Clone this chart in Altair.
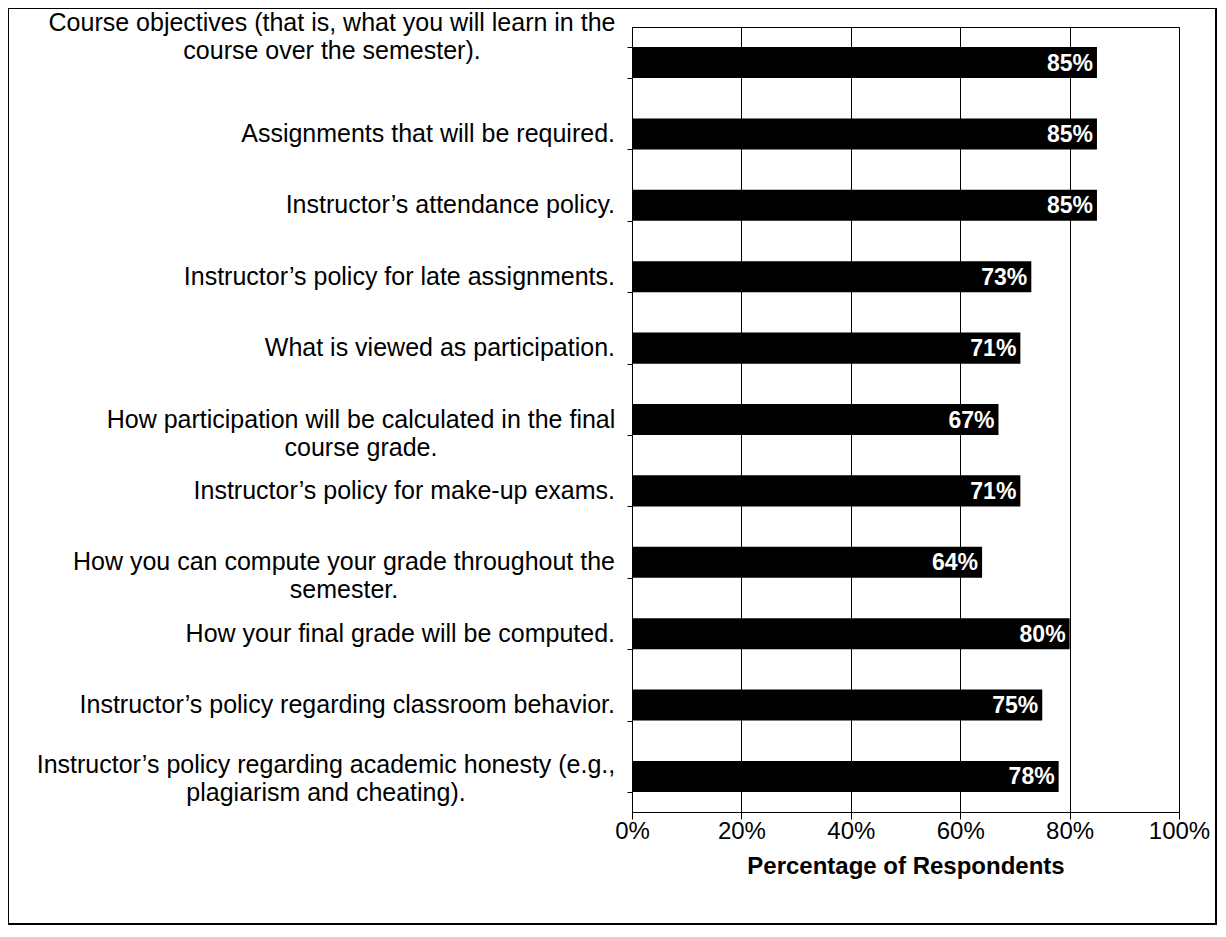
import altair as alt
import pandas as pd

categories = [
    "Course objectives (that is, what you will learn in the\ncourse over the semester).",
    "Assignments that will be required.",
    "Instructor’s attendance policy.",
    "Instructor’s policy for late assignments.",
    "What is viewed as participation.",
    "How participation will be calculated in the final\ncourse grade.",
    "Instructor’s policy for make-up exams.",
    "How you can compute your grade throughout the\nsemester.",
    "How your final grade will be computed.",
    "Instructor’s policy regarding classroom behavior.",
    "Instructor’s policy regarding academic honesty (e.g.,\nplagiarism and cheating).",
]
percent_values = [85, 85, 85, 73, 71, 67, 71, 64, 80, 75, 78]
x_ticks = [0, 0.2, 0.4, 0.6, 0.8, 1.0]

df = pd.DataFrame({
    "item": categories,
    "frac": [v / 100 for v in percent_values],
    "lbl": [f"{v}%" for v in percent_values],
})
FONT = "Liberation Sans"
LABEL_SIZE = 25

y_enc = alt.Y(
    "item:N",
    sort=None,
    scale=alt.Scale(paddingInner=0.565, paddingOuter=0.28),
    axis=alt.Axis(
        title=None,
        labels=False,
        tickBand="extent",
        tickSize=5,
        tickColor="black",
        domainColor="black",
        grid=False,
    ),
)

x_enc = alt.X(
    "frac:Q",
    scale=alt.Scale(domain=[0, 1], nice=False),
    axis=alt.Axis(
        values=x_ticks,
        format=".0%",
        title="Percentage of Respondents",
        titleFont=FONT,
        titleFontSize=24,
        titleFontWeight="bold",
        titleColor="black",
        titlePadding=11,
        labelFont=FONT,
        labelFontSize=24,
        labelColor="black",
        labelPadding=0,
        labelFlush=False,
        tickSize=7,
        tickColor="black",
        domainColor="black",
        grid=True,
        gridColor="black",
        gridWidth=1,
        gridOpacity=1,
    ),
)

base = alt.Chart(df)

bars = base.mark_bar(color="black").encode(x=x_enc, y=y_enc)

values_text = base.mark_text(
    align="right",
    baseline="middle",
    dx=-4,
    dy=1,
    color="white",
    fontWeight="bold",
    fontSize=23,
    font=FONT,
).encode(x="frac:Q", y=alt.Y("item:N", sort=None), text="lbl:N")


def cat_labels(filter_expr, xpos, align, dy):
    return (
        base.transform_filter(filter_expr)
        .mark_text(
            align=align,
            baseline="middle",
            lineBreak="\n",
            lineHeight=28,
            fontSize=LABEL_SIZE,
            font=FONT,
            color="black",
            dy=dy,
        )
        .encode(x=alt.value(xpos), y=alt.Y("item:N", sort=None), text="item:N")
    )


single_lines = cat_labels("indexof(datum.item, '\\n') < 0", -17, "right", 0)
lab_course = cat_labels("indexof(datum.item, 'Course objectives') == 0", -300, "center", -40)
lab_particip = cat_labels("indexof(datum.item, 'How participation') == 0", -271, "center", 0)
lab_compute = cat_labels("indexof(datum.item, 'How you can') == 0", -288, "center", 0)
lab_honesty = cat_labels("indexof(datum.item, 'academic honesty') > 0", -306, "center", -11)

frame = alt.Chart(pd.DataFrame({"k": [0]})).mark_rect(
    filled=False, stroke="black", strokeWidth=2
).encode(
    x=alt.value(-624), x2=alt.value(584), y=alt.value(-19), y2=alt.value(897)
)

chart = (
    alt.layer(
        bars, values_text, single_lines, lab_course, lab_particip,
        lab_compute, lab_honesty, frame,
    )
    .properties(
        width=547,
        height=785,
        autosize=alt.AutoSizeParams(type="none"),
        padding={"left": 624, "top": 19, "right": 39, "bottom": 114},
        background="white",
    )
    .configure_view(stroke="black", strokeWidth=1)
)

chart.save("out.html", embed_options={"renderer": "svg", "actions": False})
